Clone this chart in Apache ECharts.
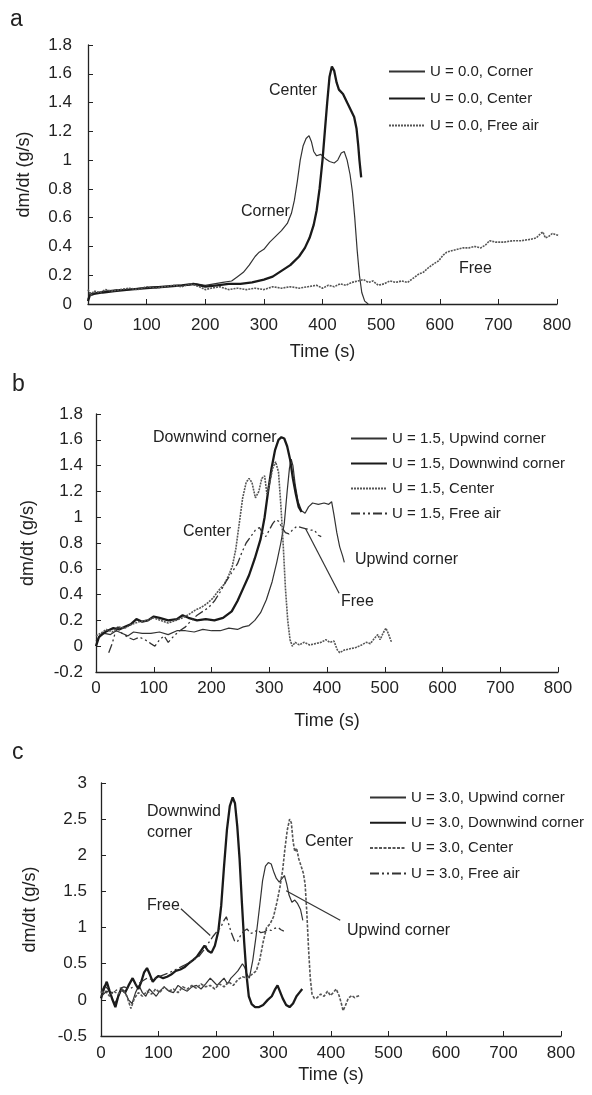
<!DOCTYPE html>
<html>
<head>
<meta charset="utf-8">
<script src="https://cdn.jsdelivr.net/npm/echarts@6/dist/echarts.min.js"></script>
<style>
  html, body { margin: 0; padding: 0; background: #fff; }
  #chart { width: 592px; height: 1095px; }
</style>
</head>
<body>
<div id="chart"></div>
<script>
// ---- panel a: U = 0.0 ----
const cornerA = [[0,0.03],[3,0.08],[8,0.07],[15,0.08],[30,0.09],[50,0.1],[70,0.1],[90,0.11],[110,0.12],[130,0.12],[150,0.13],[170,0.13],[185,0.14],[200,0.13],[215,0.14],[230,0.15],[245,0.16],[255,0.19],[265,0.22],[275,0.27],[285,0.33],[292,0.36],[300,0.38],[310,0.43],[320,0.47],[330,0.51],[340,0.56],[347,0.63],[352,0.72],[357,0.85],[362,1.0],[367,1.1],[372,1.15],[377,1.17],[381,1.13],[385,1.06],[390,1.03],[397,1.04],[405,1.01],[412,0.99],[420,0.98],[426,1.0],[432,1.05],[437,1.06],[442,1.0],[447,0.9],[451,0.78],[455,0.6],[459,0.38],[463,0.2],[467,0.08],[472,0.02],[478,0]];
const centerA = [[0,0.02],[3,0.06],[10,0.07],[25,0.08],[45,0.09],[70,0.1],[100,0.11],[130,0.12],[160,0.13],[180,0.14],[200,0.12],[220,0.13],[240,0.14],[260,0.14],[280,0.15],[300,0.17],[315,0.19],[330,0.23],[345,0.27],[360,0.33],[370,0.39],[378,0.46],[385,0.55],[390,0.65],[395,0.8],[400,1.0],[404,1.2],[408,1.4],[412,1.58],[416,1.65],[420,1.62],[424,1.54],[428,1.49],[435,1.46],[442,1.4],[448,1.35],[454,1.3],[458,1.22],[461,1.1],[463,1.0],[466,0.88]];
const freeA = [[0,0.1],[5,0.06],[10,0.09],[20,0.08],[30,0.1],[40,0.09],[55,0.1],[70,0.11],[85,0.1],[100,0.12],[115,0.11],[130,0.12],[145,0.13],[160,0.12],[175,0.14],[190,0.12],[200,0.1],[210,0.11],[225,0.12],[240,0.1],[255,0.11],[270,0.1],[285,0.11],[300,0.1],[315,0.12],[330,0.11],[345,0.12],[360,0.11],[375,0.12],[390,0.13],[400,0.11],[410,0.13],[420,0.12],[430,0.14],[440,0.13],[450,0.15],[460,0.16],[470,0.17],[478,0.15],[486,0.16],[495,0.13],[505,0.14],[515,0.16],[525,0.15],[535,0.16],[545,0.15],[555,0.18],[565,0.21],[572,0.22],[580,0.25],[590,0.28],[598,0.3],[606,0.34],[612,0.36],[620,0.37],[630,0.38],[640,0.39],[650,0.39],[660,0.4],[670,0.39],[678,0.41],[685,0.44],[695,0.43],[710,0.43],[725,0.44],[740,0.44],[755,0.45],[765,0.46],[772,0.49],[776,0.5],[780,0.46],[786,0.47],[792,0.49],[800,0.48],[808,0.47],[812,0.46]];

// ---- panel b: U = 1.5 ----
const upwindB = [[0,0.04],[8,0.08],[15,0.1],[25,0.09],[35,0.12],[45,0.1],[55,0.08],[65,0.11],[80,0.1],[95,0.1],[110,0.11],[125,0.09],[140,0.12],[155,0.12],[170,0.11],[185,0.13],[200,0.12],[215,0.12],[230,0.14],[245,0.13],[255,0.15],[265,0.16],[275,0.2],[285,0.26],[295,0.36],[305,0.5],[313,0.65],[320,0.8],[326,0.95],[331,1.2],[335,1.38],[338,1.45],[341,1.4],[345,1.25],[350,1.12],[356,1.05],[362,1.03],[368,1.08],[375,1.11],[385,1.1],[395,1.11],[403,1.1],[408,1.12],[412,1.02],[417,0.88],[422,0.77],[427,0.7],[430,0.65]];
const downwindB = [[0,0.0],[5,0.07],[12,0.1],[20,0.12],[30,0.14],[40,0.13],[50,0.15],[60,0.17],[70,0.21],[80,0.19],[90,0.2],[100,0.23],[110,0.22],[125,0.2],[140,0.21],[150,0.24],[160,0.22],[175,0.2],[190,0.21],[205,0.2],[220,0.22],[235,0.27],[245,0.35],[255,0.45],[265,0.55],[275,0.68],[285,0.83],[292,1.0],[298,1.2],[304,1.38],[310,1.52],[316,1.6],[321,1.62],[326,1.61],[331,1.55],[336,1.45],[341,1.3],[346,1.18],[351,1.08],[356,1.04]];
const centerB = [[0,0.08],[8,0.1],[18,0.13],[28,0.11],[38,0.15],[50,0.14],[62,0.17],[75,0.19],[88,0.2],[100,0.22],[112,0.2],[125,0.18],[138,0.2],[150,0.22],[162,0.25],[172,0.28],[182,0.3],[192,0.33],[202,0.37],[212,0.43],[222,0.48],[230,0.55],[236,0.62],[242,0.75],[248,0.95],[254,1.15],[260,1.27],[265,1.3],[270,1.27],[276,1.15],[282,1.2],[287,1.3],[292,1.32],[296,1.18],[300,1.25],[306,1.38],[311,1.43],[316,1.35],[320,1.1],[324,0.8],[328,0.45],[332,0.2],[336,0.05],[340,0.0],[345,0.03],[352,0.01],[360,0.03],[370,0.01],[380,0.02],[390,0.03],[398,0.05],[405,0.03],[412,0.04],[418,-0.03],[422,-0.05],[430,-0.03],[440,-0.02],[450,-0.01],[460,0.01],[468,0.03],[475,0.02],[482,0.06],[488,0.09],[492,0.05],[497,0.1],[502,0.14],[506,0.1],[510,0.05],[512,0.03]];
const freeB = [[22,-0.05],[28,0.02],[33,0.1],[38,0.15],[45,0.1],[55,0.07],[65,0.05],[75,0.07],[85,0.05],[95,0.02],[102,0.0],[110,0.05],[118,0.08],[125,0.03],[135,0.08],[145,0.12],[155,0.15],[165,0.2],[175,0.24],[185,0.27],[195,0.3],[205,0.35],[215,0.42],[225,0.5],[235,0.57],[245,0.64],[252,0.72],[260,0.8],[268,0.85],[276,0.9],[283,0.92],[288,0.88],[294,0.85],[300,0.9],[306,0.95],[311,0.98],[316,0.97],[322,0.92],[328,0.88],[334,0.87],[340,0.9],[348,0.93],[356,0.92],[364,0.91],[372,0.9],[378,0.9],[385,0.86],[390,0.85]];

// ---- panel c: U = 3.0 ----
const upwindC = [[0,0.1],[6,0.2],[12,0.15],[18,0.05],[24,-0.05],[30,0.05],[36,0.15],[42,0.1],[48,0.0],[54,-0.05],[60,0.1],[66,0.2],[72,0.1],[78,0.05],[84,0.15],[90,0.1],[96,0.05],[102,0.12],[110,0.18],[118,0.12],[126,0.1],[134,0.2],[142,0.15],[150,0.12],[158,0.18],[166,0.2],[174,0.15],[182,0.22],[190,0.3],[196,0.25],[202,0.2],[208,0.25],[214,0.3],[220,0.22],[226,0.3],[232,0.35],[238,0.4],[242,0.45],[246,0.5],[250,0.45],[254,0.35],[258,0.3],[264,0.55],[270,0.9],[276,1.3],[281,1.65],[286,1.85],[291,1.9],[296,1.88],[300,1.78],[305,1.68],[310,1.63],[315,1.68],[319,1.72],[323,1.6],[327,1.45],[332,1.35],[337,1.38],[342,1.33],[347,1.25],[351,1.1]];
const downwindC = [[0,0.02],[5,0.15],[10,0.25],[15,0.12],[20,0.0],[25,-0.1],[30,0.05],[35,0.15],[42,0.1],[48,0.2],[55,0.3],[60,0.22],[65,0.15],[70,0.25],[75,0.38],[80,0.44],[85,0.35],[90,0.25],[95,0.3],[100,0.33],[108,0.3],[115,0.32],[122,0.35],[130,0.4],[138,0.42],[145,0.45],[152,0.5],[160,0.55],[167,0.6],[174,0.68],[180,0.75],[186,0.68],[192,0.65],[198,0.75],[204,0.95],[209,1.3],[214,1.85],[219,2.35],[224,2.68],[229,2.8],[233,2.72],[237,2.4],[241,1.95],[245,1.35],[249,0.8],[253,0.35],[257,0.05],[262,-0.06],[268,-0.1],[275,-0.1],[282,-0.07],[290,0.0],[297,0.05],[303,0.15],[307,0.2],[311,0.12],[316,0.02],[322,-0.07],[328,-0.1],[334,-0.05],[340,0.05],[345,0.1],[350,0.15]];
const centerC = [[0,0.1],[8,0.12],[15,0.05],[22,0.12],[30,0.08],[38,0.15],[45,0.05],[52,-0.12],[58,0.02],[65,0.1],[72,0.05],[80,0.12],[88,0.08],[95,0.15],[102,0.1],[110,0.18],[118,0.12],[126,0.15],[134,0.1],[142,0.18],[150,0.15],[158,0.2],[166,0.16],[174,0.22],[182,0.18],[190,0.2],[198,0.15],[206,0.22],[214,0.18],[222,0.25],[230,0.2],[238,0.28],[246,0.32],[254,0.3],[262,0.35],[270,0.4],[276,0.55],[282,0.8],[288,1.0],[294,1.05],[300,1.15],[306,1.35],[311,1.55],[316,1.8],[320,2.1],[324,2.35],[328,2.5],[331,2.45],[334,2.2],[337,2.05],[340,2.1],[344,1.95],[348,1.85],[352,1.75],[355,1.6],[358,1.2],[361,0.7],[364,0.3],[367,0.08],[371,0.02],[376,0.03],[382,0.08],[388,0.05],[394,0.12],[399,0.06],[404,0.1],[409,0.15],[414,0.06],[418,-0.05],[421,-0.15],[425,-0.08],[430,0.02],[436,0.06],[441,0.03],[446,0.05],[450,0.06]];
const freeC = [[0,0.05],[10,0.12],[20,0.1],[30,0.15],[40,0.18],[50,0.15],[60,0.2],[70,0.25],[80,0.3],[90,0.28],[100,0.32],[110,0.35],[120,0.38],[130,0.42],[140,0.46],[150,0.5],[160,0.55],[170,0.6],[180,0.7],[188,0.8],[195,0.88],[202,0.95],[208,1.0],[214,1.1],[218,1.15],[222,1.05],[227,0.92],[232,0.82],[237,0.8],[242,0.88],[248,0.95],[254,0.98],[260,0.92],[266,0.93],[272,0.97],[278,0.93],[284,0.94],[290,0.97],[296,0.96],[302,0.99],[308,1.0],[313,0.97],[318,0.95]];

// leader lines (data coords)
const leaderFreeB = [[363,0.91],[421,0.41]];
const leaderFreeC = [[139,1.26],[190,0.89]];
const leaderUpwindC = [[322,1.51],[416,1.10]];

const namesA = ['U = 0.0, Corner', 'U = 0.0, Center', 'U = 0.0, Free air'];
const namesB = ['U = 1.5, Upwind corner', 'U = 1.5, Downwind corner', 'U = 1.5, Center', 'U = 1.5, Free air'];
const namesC = ['U = 3.0, Upwind corner', 'U = 3.0, Downwind corner', 'U = 3.0, Center', 'U = 3.0, Free air'];

const FONT = 'Liberation Sans, Arial, sans-serif';
const INK = '#222';

const thin = {color: '#333', width: 1.2, type: 'solid'};
const thick = {color: '#1a1a1a', width: 2.3, type: 'solid'};
const dotted = {color: '#555', width: 1.6, type: [2, 1]};
const dashFine = {color: '#555', width: 1.6, type: [3, 1.5]};
const dashDot = {color: '#333', width: 1.3, type: [9, 3, 2, 3, 2, 3]};

function line(name, data, grid, style, extra) {
    return Object.assign({
        name: name, type: 'line', data: data,
        xAxisIndex: grid, yAxisIndex: grid,
        showSymbol: false, symbol: 'none', smooth: false,
        lineStyle: style, itemStyle: {color: style.color},
        animation: false, z: 3
    }, extra || {});
}

function leader(pts) {
    return {
        silent: true, symbol: ['none', 'none'], animation: false,
        label: {show: false},
        lineStyle: {color: '#333', width: 1.2, type: 'solid'},
        data: [[{coord: pts[0]}, {coord: pts[1]}]]
    };
}

function xAxis(grid, labelMargin, nameGap) {
    return {
        type: 'value', gridIndex: grid, min: 0, max: 800, interval: 100,
        name: 'Time (s)', nameLocation: 'middle', nameGap: nameGap,
        nameTextStyle: {fontFamily: FONT, fontSize: 18, color: INK},
        axisLine: {onZero: false, lineStyle: {color: INK, width: 1.3}},
        axisTick: {inside: true, length: 5, lineStyle: {color: INK}},
        axisLabel: {margin: labelMargin, fontFamily: FONT, fontSize: 17, color: INK},
        splitLine: {show: false}
    };
}

function yAxis(grid, min, max, interval, labelMargin, nameGap) {
    return {
        type: 'value', gridIndex: grid, min: min, max: max, interval: interval,
        name: 'dm/dt (g/s)', nameLocation: 'middle', nameGap: nameGap,
        nameTextStyle: {fontFamily: FONT, fontSize: 18, color: INK},
        axisLine: {show: true, onZero: false, lineStyle: {color: INK, width: 1.3}},
        axisTick: {show: true, inside: true, length: 5, lineStyle: {color: INK}},
        axisLabel: {margin: labelMargin, fontFamily: FONT, fontSize: 17, color: INK},
        splitLine: {show: false}
    };
}

// legend: keep the series line style, hide the marker symbol
function legend(names, left, top, gap) {
    return {
        data: names, orient: 'vertical', left: left, top: top,
        itemWidth: 36, itemHeight: 14, itemGap: gap, selectedMode: false,
        itemStyle: {opacity: 0},
        textStyle: {fontFamily: FONT, fontSize: 15, color: INK}
    };
}

function note(text, x, y, align) {
    return {
        type: 'text', left: x, top: y, z: 10,
        style: {text: text, font: '16px ' + FONT, fill: INK, textAlign: align || 'left'}
    };
}

const chart = echarts.init(document.getElementById('chart'), null, {renderer: 'canvas'});

chart.setOption({
    backgroundColor: '#fff',
    animation: false,
    grid: [
        {left: 88, top: 45, width: 469, height: 259},
        {left: 96, top: 414, width: 462, height: 258},
        {left: 101, top: 783, width: 460, height: 253}
    ],
    xAxis: [xAxis(0, 13, 39), xAxis(1, 8, 40), xAxis(2, 9, 30)],
    yAxis: [
        yAxis(0, 0, 1.8, 0.2, 16, 55),
        yAxis(1, -0.2, 1.8, 0.2, 13, 59),
        yAxis(2, -0.5, 3, 0.5, 14, 62)
    ],
    legend: [
        legend(namesA, 383, 59, 12),
        legend(namesB, 345, 426, 10),
        legend(namesC, 364, 785, 10.3)
    ],
    graphic: [
        {type: 'text', left: 10, top: 8, style: {text: 'a', font: '23px ' + FONT, fill: INK}},
        {type: 'text', left: 12, top: 373, style: {text: 'b', font: '23px ' + FONT, fill: INK}},
        {type: 'text', left: 12, top: 741, style: {text: 'c', font: '23px ' + FONT, fill: INK}},
        note('Center', 269, 83),
        note('Corner', 241, 204),
        note('Free', 459, 261),
        note('Downwind corner', 153, 430),
        note('Center', 183, 524),
        note('Upwind corner', 355, 552),
        note('Free', 341, 594),
        note('Downwind', 147, 804),
        note('corner', 147, 825),
        note('Center', 305, 834),
        note('Free', 147, 898),
        note('Upwind corner', 347, 923)
    ],
    series: [
        line(namesA[0], cornerA, 0, thin),
        line(namesA[1], centerA, 0, thick),
        line(namesA[2], freeA, 0, dotted),
        line(namesB[0], upwindB, 1, thin),
        line(namesB[1], downwindB, 1, thick),
        line(namesB[2], centerB, 1, dotted),
        line(namesB[3], freeB, 1, dashDot, {markLine: leader(leaderFreeB)}),
        line(namesC[0], upwindC, 2, thin, {markLine: leader(leaderUpwindC)}),
        line(namesC[1], downwindC, 2, thick),
        line(namesC[2], centerC, 2, dashFine),
        line(namesC[3], freeC, 2, dashDot, {markLine: leader(leaderFreeC)})
    ]
});
</script>
</body>
</html>
